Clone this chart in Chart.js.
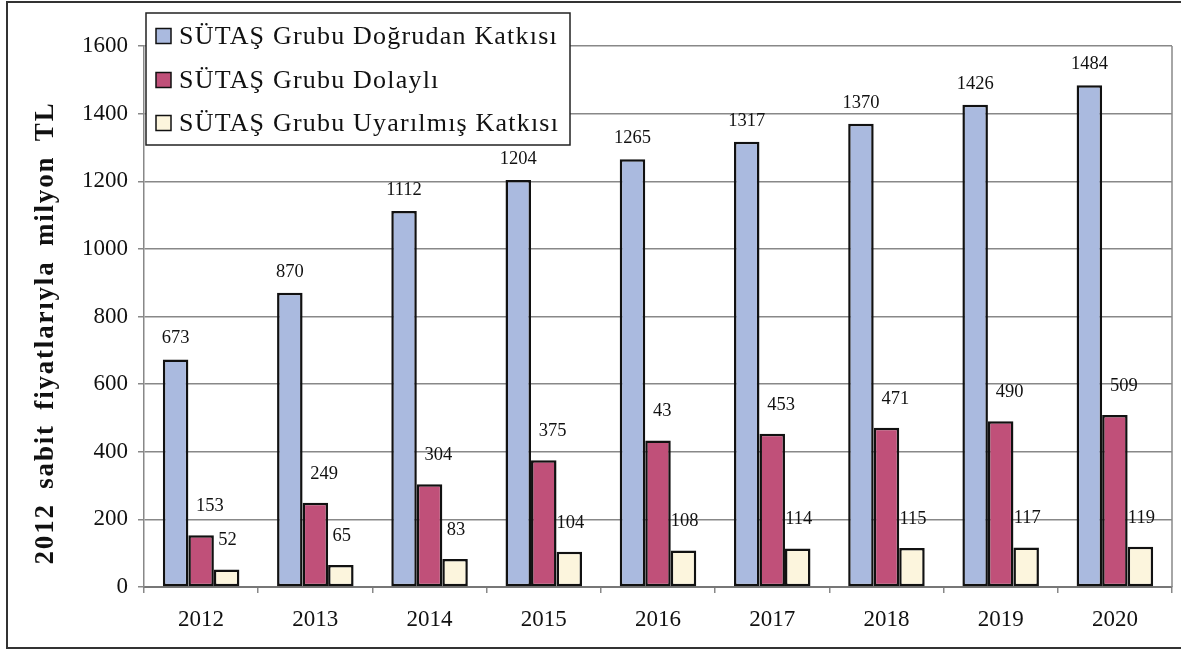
<!DOCTYPE html>
<html>
<head>
<meta charset="utf-8">
<script src="https://cdn.jsdelivr.net/npm/chart.js@4/dist/chart.umd.min.js"></script>
<style>
html,body{margin:0;padding:0;background:#fff;overflow:hidden;}
#wrap{width:1181px;height:652px;position:relative;}
</style>
</head>
<body>
<div id="wrap"><canvas id="c" width="1181" height="652"></canvas></div>
<script>
const categories = ['2012','2013','2014','2015','2016','2017','2018','2019','2020'];
const directValues = [673, 870, 1112, 1204, 1265, 1317, 1370, 1426, 1484];
const indirectValues = [153, 249, 304, 375, 433, 453, 471, 490, 509];
const inducedValues = [52, 65, 83, 104, 108, 114, 115, 117, 119];
const directLabels = ['673','870','1112','1204','1265','1317','1370','1426','1484'];
const indirectLabels = ['153','249','304','375','43','453','471','490','509'];
const inducedLabels = ['52','65','83','104','108','114','115','117','119'];
const seriesNames = ['SÜTAŞ Grubu Doğrudan Katkısı','SÜTAŞ Grubu Dolaylı','SÜTAŞ Grubu Uyarılmış Katkısı'];
const yTickValues = [0, 200, 400, 600, 800, 1000, 1200, 1400, 1600];
const yAxisTitle = '2012 sabit fiyatlarıyla milyon TL';

const seriesColors = ['#AABADF', '#C05079', '#FCF5DD'];
const serif = '"Liberation Serif", "Times New Roman", serif';

const labelSets = [directLabels, indirectLabels, inducedLabels];

const decorPlugin = {
  id: 'decor',
  afterDatasetsDraw(chart) {
    const ctx = chart.ctx;
    const area = chart.chartArea;
    ctx.save();
    ctx.strokeStyle = '#888';
    ctx.lineWidth = 1.5;
    ctx.beginPath();
    ctx.moveTo(area.right, area.top);
    ctx.lineTo(area.right, area.bottom);
    ctx.stroke();
    ctx.fillStyle = '#111';
    ctx.font = '18.5px ' + serif;
    ctx.textBaseline = 'middle';
    chart.data.datasets.forEach((ds, i) => {
      const meta = chart.getDatasetMeta(i);
      meta.data.forEach((el, j) => {
        const txt = labelSets[i][j];
        if (i === 0) {
          ctx.textAlign = 'center';
          ctx.fillText(txt, el.x, el.y - 21);
        } else if (i === 1) {
          ctx.textAlign = 'left';
          ctx.fillText(txt, el.x - 5, el.y - 29);
        } else {
          ctx.textAlign = 'center';
          ctx.fillText(txt, el.x + 1, el.y - 29);
        }
      });
    });
    ctx.restore();
  },
  afterDraw(chart) {
    const ctx = chart.ctx;
    ctx.save();
    ctx.strokeStyle = '#333';
    ctx.lineWidth = 2;
    ctx.beginPath();
    ctx.moveTo(1190, 2);
    ctx.lineTo(7, 2);
    ctx.lineTo(7, 648);
    ctx.lineTo(1190, 648);
    ctx.stroke();

    ctx.save();
    ctx.translate(46, 333);
    ctx.rotate(-Math.PI / 2);
    ctx.font = 'bold 27px ' + serif;
    try { ctx.letterSpacing = '1.8px'; ctx.wordSpacing = '6px'; } catch (e) {}
    ctx.fillStyle = '#111';
    ctx.textAlign = 'center';
    ctx.textBaseline = 'middle';
    ctx.fillText(yAxisTitle, 0, 0);
    try { ctx.letterSpacing = '0px'; ctx.wordSpacing = '0px'; } catch (e) {}
    ctx.restore();

    const lx = 146, ly = 13, lw = 424, lh = 132;
    ctx.fillStyle = '#fff';
    ctx.fillRect(lx, ly, lw, lh);
    ctx.strokeStyle = '#222';
    ctx.lineWidth = 1.5;
    ctx.strokeRect(lx, ly, lw, lh);
    const rows = [36, 80, 123];
    ctx.font = '26px ' + serif;
    try { ctx.letterSpacing = '1.2px'; } catch (e) {}
    ctx.textBaseline = 'middle';
    ctx.textAlign = 'left';
    chart.data.datasets.forEach((ds, i) => {
      const cy = rows[i];
      ctx.fillStyle = ds.backgroundColor;
      ctx.fillRect(156, cy - 7.5, 15, 15);
      ctx.strokeStyle = '#111';
      ctx.lineWidth = 1.5;
      ctx.strokeRect(156, cy - 7.5, 15, 15);
      ctx.fillStyle = '#111';
      ctx.fillText(ds.label, 179, cy + 1);
    });
    try { ctx.letterSpacing = '0px'; } catch (e) {}
    ctx.restore();
  }
};

new Chart(document.getElementById('c'), {
  type: 'bar',
  data: {
    labels: categories,
    datasets: [
      { label: seriesNames[0], data: directValues, backgroundColor: seriesColors[0] },
      { label: seriesNames[1], data: indirectValues, backgroundColor: seriesColors[1] },
      { label: seriesNames[2], data: inducedValues, backgroundColor: seriesColors[2] }
    ]
  },
  options: {
    responsive: false,
    animation: false,
    devicePixelRatio: 1,
    layout: { padding: { left: 0, top: 46, right: 9, bottom: 0 } },
    datasets: {
      bar: {
        categoryPercentage: 0.67,
        barPercentage: 1.0,
        borderColor: '#111',
        borderWidth: 2.5,
        borderSkipped: false
      }
    },
    plugins: {
      legend: { display: false },
      tooltip: { enabled: false },
      title: { display: false }
    },
    scales: {
      x: {
        offset: true,
        grid: {
          offset: true,
          drawOnChartArea: false,
          drawTicks: true,
          tickLength: 6,
          color: '#888',
          lineWidth: 1.5
        },
        border: { display: true, color: '#777', width: 2 },
        ticks: {
          color: '#111',
          font: { family: serif, size: 23 },
          padding: 13,
          maxRotation: 0
        },
        afterFit(scale) { scale.height = 65; }
      },
      y: {
        min: 0,
        max: 1600,
        afterBuildTicks(scale) { scale.ticks = yTickValues.map(v => ({ value: v })); },
        grid: {
          color: '#888',
          lineWidth: 1.5,
          drawTicks: true,
          tickLength: 6
        },
        border: { display: true, color: '#888', width: 1.5 },
        ticks: {
          color: '#111',
          font: { family: serif, size: 23 },
          padding: 10,
          callback: (v) => String(v)
        },
        title: { display: false },
        afterFit(scale) { scale.width = 144; }
      }
    }
  },
  plugins: [decorPlugin]
});
</script>
</body>
</html>
